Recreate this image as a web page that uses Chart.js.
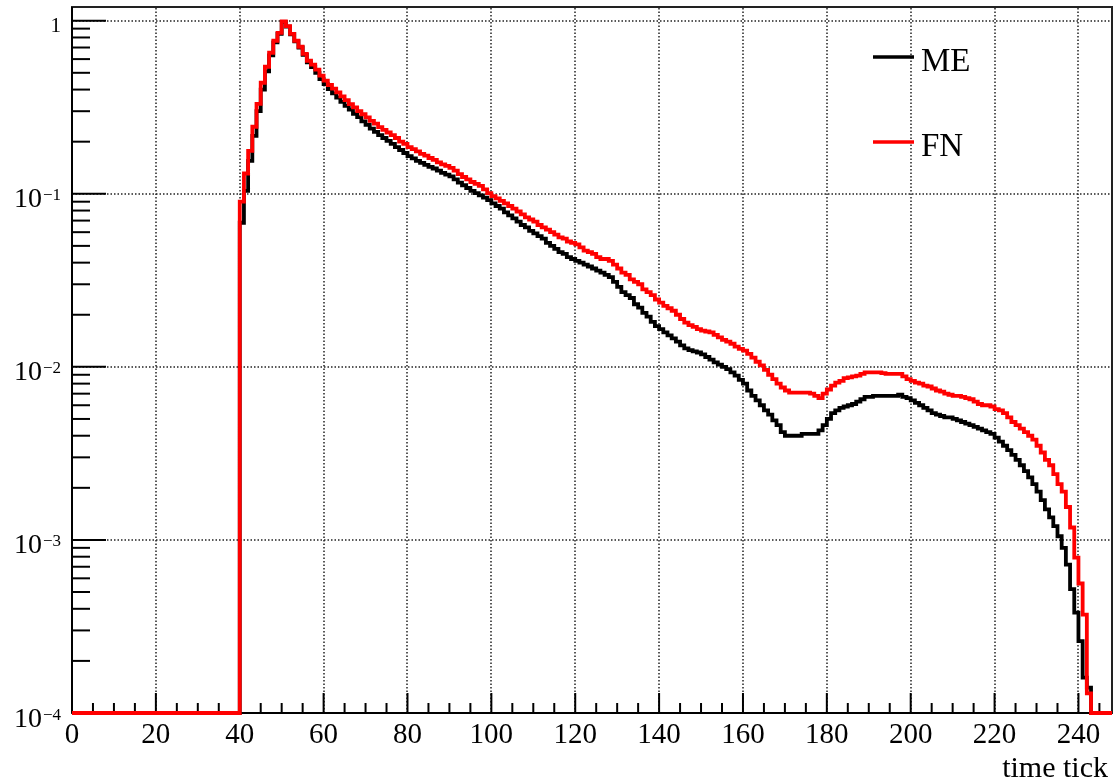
<!DOCTYPE html>
<html><head><meta charset="utf-8">
<script src="https://cdn.jsdelivr.net/npm/chart.js@4.4.1/dist/chart.umd.min.js"></script>
<style>html,body{margin:0;padding:0;background:#fff;}#wrap{width:1114px;height:782px;}</style>
</head><body><div id="wrap"><canvas id="c" width="1114" height="782"></canvas></div>
<script>
// ---- data ----
const seriesNames = ['ME', 'FN'];
const seriesColors = ['#000000', '#ff0000'];
const nBins = 248;          // bins of width 1, 0..248
const firstBin = 40;        // first non-empty bin
const meValues = [
  0.068, 0.104, 0.155, 0.216, 0.300, 0.400, 0.510, 0.630, 0.750, 0.840,
  0.985, 0.925, 0.835, 0.760, 0.700, 0.635, 0.575, 0.540, 0.500, 0.460,
  0.430, 0.403, 0.380, 0.360, 0.340, 0.322, 0.306, 0.290, 0.277, 0.262,
  0.250, 0.238, 0.228, 0.218, 0.210, 0.202, 0.194, 0.186, 0.179, 0.172,
  0.165, 0.160, 0.155, 0.151, 0.147, 0.143, 0.140, 0.136, 0.132, 0.129,
  0.126, 0.121, 0.116, 0.112, 0.108, 0.104, 0.101, 0.098, 0.095, 0.092,
  0.088, 0.085, 0.082, 0.078, 0.075, 0.072, 0.069, 0.066, 0.064, 0.061,
  0.059, 0.057, 0.055, 0.052, 0.050, 0.048, 0.046, 0.045, 0.043, 0.042,
  0.041, 0.040, 0.039, 0.038, 0.037, 0.036, 0.035, 0.034, 0.033, 0.031,
  0.029, 0.027, 0.026, 0.025, 0.023, 0.022, 0.0205, 0.0195, 0.0182, 0.0172,
  0.0165, 0.0158, 0.0152, 0.0146, 0.0140, 0.0133, 0.0128, 0.0125, 0.0123, 0.0121,
  0.0118, 0.0114, 0.0110, 0.0106, 0.0103, 0.0100, 0.0097, 0.0093, 0.0089, 0.0084,
  0.0080, 0.0073, 0.0068, 0.0064, 0.0060, 0.0056, 0.0053, 0.0049, 0.0046, 0.0042,
  0.0040, 0.0040, 0.0040, 0.0040, 0.0041, 0.0041, 0.0041, 0.0041, 0.0043, 0.0046,
  0.0050, 0.0054, 0.0056, 0.0058, 0.0059, 0.0060, 0.0061, 0.0063, 0.0065, 0.0067,
  0.0067, 0.0068, 0.0068, 0.0068, 0.0068, 0.0068, 0.0068, 0.0069, 0.0067, 0.0066,
  0.0064, 0.0062, 0.0060, 0.0058, 0.0056, 0.0054, 0.0053, 0.0052, 0.0051, 0.0051,
  0.0050, 0.0049, 0.0048, 0.0047, 0.0046, 0.0045, 0.0044, 0.0043, 0.0042, 0.0041,
  0.0039, 0.0037, 0.0035, 0.0033, 0.0031, 0.0029, 0.0027, 0.0025, 0.0023, 0.0021,
  0.0019, 0.0017, 0.0015, 0.00135, 0.0012, 0.00105, 0.0009, 0.00072, 0.00052, 0.00038,
  0.00026, 0.00016, 0.00014
];
const fnValues = [
  0.090, 0.131, 0.177, 0.244, 0.331, 0.438, 0.542, 0.653, 0.766, 0.851,
  0.990, 0.930, 0.840, 0.766, 0.707, 0.644, 0.587, 0.557, 0.521, 0.481,
  0.450, 0.425, 0.405, 0.385, 0.365, 0.348, 0.330, 0.316, 0.300, 0.288,
  0.276, 0.264, 0.254, 0.243, 0.234, 0.226, 0.218, 0.210, 0.200, 0.194,
  0.186, 0.181, 0.176, 0.170, 0.166, 0.161, 0.157, 0.152, 0.148, 0.145,
  0.141, 0.136, 0.130, 0.125, 0.121, 0.117, 0.114, 0.111, 0.106, 0.101,
  0.097, 0.094, 0.091, 0.088, 0.085, 0.082, 0.079, 0.076, 0.073, 0.071,
  0.069, 0.066, 0.064, 0.062, 0.060, 0.058, 0.056, 0.055, 0.053, 0.052,
  0.051, 0.049, 0.047, 0.046, 0.045, 0.043, 0.042, 0.042, 0.041, 0.039,
  0.037, 0.035, 0.034, 0.032, 0.031, 0.030, 0.028, 0.027, 0.026, 0.0245,
  0.0235, 0.0225, 0.0218, 0.0211, 0.0200, 0.0189, 0.0180, 0.0174, 0.0170, 0.0165,
  0.0162, 0.0160, 0.0158, 0.0153, 0.0148, 0.0143, 0.0140, 0.0136, 0.0131, 0.0127,
  0.0124, 0.0119, 0.0113, 0.0107, 0.0102, 0.0096, 0.0090, 0.0085, 0.0080, 0.0076,
  0.0073, 0.0071, 0.0071, 0.0071, 0.0071, 0.0071, 0.0070, 0.0068, 0.0066, 0.0070,
  0.0074, 0.0078, 0.0081, 0.0083, 0.0086, 0.0087, 0.0088, 0.0089, 0.0091, 0.0093,
  0.0093, 0.0093, 0.0093, 0.0092, 0.0091, 0.0091, 0.0091, 0.0091, 0.0088, 0.0085,
  0.0083, 0.0081, 0.0080, 0.0078, 0.0077, 0.0075, 0.0073, 0.0072, 0.0070, 0.0069,
  0.0068, 0.0068, 0.0067, 0.0066, 0.0065, 0.0063, 0.0061, 0.0060, 0.0060, 0.0059,
  0.0057, 0.0056, 0.0054, 0.0051, 0.0048, 0.0046, 0.0044, 0.0042, 0.0040, 0.0038,
  0.0035, 0.0032, 0.0029, 0.0027, 0.0024, 0.0021, 0.0019, 0.00155, 0.00118, 0.00079,
  0.00056, 0.00037, 0.00013
];
const xTickValues = [0, 20, 40, 60, 80, 100, 120, 140, 160, 180, 200, 220, 240];
const xTickLabels = ['0', '20', '40', '60', '80', '100', '120', '140', '160', '180', '200', '220', '240'];
const yTickValues = [1, 0.1, 0.01, 0.001, 0.0001];
const yTickBases = ['1', '10', '10', '10', '10'];
const yTickExps = ['', '\u22121', '\u22122', '\u22123', '\u22124'];
const xTitle = 'time tick';
const yMin = 1e-4, yMax = 1.2;

// ---- build histogram step data ----
function histPoints(values) {
  const pts = [];
  for (let i = 0; i < nBins; i++) {
    const k = i - firstBin;
    const v = (k >= 0 && k < values.length) ? values[k] : 0;
    pts.push({ x: i, y: Math.max(v, yMin) });
  }
  pts.push({ x: nBins, y: pts[pts.length - 1].y });
  return pts;
}

const FONT = '"Liberation Serif", "Times New Roman", serif';

const rootStyle = {
  id: 'rootStyle',
  beforeDatasetsDraw(chart) {
    const { ctx, chartArea: a, scales: { x, y } } = chart;
    ctx.save();
    const line = (x1, y1, x2, y2) => { ctx.beginPath(); ctx.moveTo(x1, y1); ctx.lineTo(x2, y2); ctx.stroke(); };
    // dotted grid
    ctx.strokeStyle = '#222';
    ctx.lineWidth = 1.5;
    ctx.setLineDash([1.5, 2]);
    xTickValues.forEach(v => {
      if (v === 0) return;
      const px = Math.round(x.getPixelForValue(v));
      line(px, a.bottom, px, a.top);
    });
    yTickValues.forEach(v => {
      if (v === yMin) return;
      const py = Math.round(y.getPixelForValue(v));
      line(a.left, py, a.right, py);
    });
    ctx.setLineDash([]);
    // frame
    ctx.strokeStyle = '#222';
    ctx.lineWidth = 2;
    ctx.strokeRect(a.left, a.top, a.right - a.left, a.bottom - a.top);
    // x ticks
    ctx.strokeStyle = '#000';
    ctx.lineWidth = 2;
    for (let v = 0; v < nBins; v += 5) {
      const px = x.getPixelForValue(v);
      const len = (v % 20 === 0) ? 20 : 10;
      line(px, a.bottom, px, a.bottom - len);
    }
    // y ticks
    for (let e = -4; e <= 0; e++) {
      const base = Math.pow(10, e);
      const py = y.getPixelForValue(base);
      line(a.left, py, a.left + 34, py);
      if (e < 0) {
        for (let m = 2; m <= 9; m++) {
          const pm = y.getPixelForValue(m * base);
          line(a.left, pm, a.left + 18, pm);
        }
      }
    }
    // axis lines
    ctx.lineWidth = 2;
    line(a.left, a.top, a.left, a.bottom);
    line(a.left, a.bottom, a.right, a.bottom);
    ctx.restore();
  },
  afterDraw(chart) {
    const { ctx, chartArea: a, scales: { x, y } } = chart;
    ctx.save();
    ctx.fillStyle = '#000';
    // x labels
    ctx.font = '29px ' + FONT;
    ctx.textAlign = 'center';
    ctx.textBaseline = 'alphabetic';
    xTickValues.forEach((v, i) => {
      ctx.fillText(xTickLabels[i], x.getPixelForValue(v), 743);
    });
    // y labels
    const rightEdge = 61;
    yTickValues.forEach((v, i) => {
      const py = y.getPixelForValue(v);
      ctx.textAlign = 'right';
      if (!yTickExps[i]) {
        ctx.font = '21px ' + FONT;
        ctx.fillText(yTickBases[i], rightEdge, py + 11);
      } else {
        ctx.font = '17px ' + FONT;
        const w = ctx.measureText(yTickExps[i]).width;
        ctx.fillText(yTickExps[i], rightEdge, py + 6.5);
        ctx.font = '28px ' + FONT;
        ctx.fillText(yTickBases[i], rightEdge - w - 1, py + 13.5);
      }
    });
    // axis title
    ctx.font = '30px ' + FONT;
    ctx.textAlign = 'right';
    ctx.fillText(xTitle, 1108, 777);
    // legend
    const legendY = [57, 142];
    ctx.textAlign = 'left';
    ctx.font = '33px ' + FONT;
    seriesNames.forEach((n, i) => {
      ctx.strokeStyle = seriesColors[i];
      ctx.lineWidth = 3.5;
      ctx.beginPath(); ctx.moveTo(873, legendY[i]); ctx.lineTo(914, legendY[i]); ctx.stroke();
      ctx.fillText(n, 921, legendY[i] + 13.5);
    });
    ctx.restore();
  }
};

new Chart(document.getElementById('c'), {
  type: 'line',
  data: {
    datasets: [
      { label: seriesNames[0], data: histPoints(meValues), borderColor: seriesColors[0], order: 1 },
      { label: seriesNames[1], data: histPoints(fnValues), borderColor: seriesColors[1], order: 0 }
    ].map(d => Object.assign(d, {
      borderWidth: 3.8, stepped: true, pointRadius: 0, fill: false, clip: false,
      borderJoinStyle: 'miter', borderCapStyle: 'butt', tension: 0
    }))
  },
  options: {
    responsive: false,
    animation: false,
    devicePixelRatio: 1,
    layout: { padding: { left: 72, top: 7, right: 2, bottom: 69 } },
    plugins: { legend: { display: false }, tooltip: { enabled: false } },
    scales: {
      x: { type: 'linear', min: 0, max: nBins, display: false },
      y: { type: 'logarithmic', min: yMin, max: yMax, display: false }
    }
  },
  plugins: [rootStyle]
});
</script>
</body></html>
